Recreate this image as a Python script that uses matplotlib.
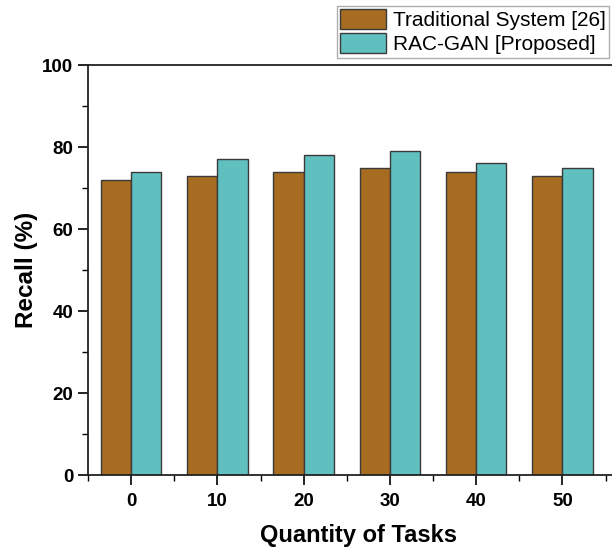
import matplotlib
matplotlib.use("Agg")
import matplotlib.pyplot as plt
import numpy as np
from matplotlib.ticker import MultipleLocator

tasks = [0, 10, 20, 30, 40, 50]
traditional = [72, 73, 74, 75, 74, 73]
racgan = [74, 77, 78, 79, 76, 75]
labels = ["Traditional System [26]", "RAC-GAN [Proposed]"]

plt.rcParams['font.family'] = ['Liberation Sans', 'DejaVu Sans']

fig = plt.figure(figsize=(6.12, 5.5), dpi=100)
ax = fig.add_axes([88/612, 75/550, 540/612, 410/550])

w = 3.5
x = np.array(tasks, dtype=float)
b1 = ax.bar(x - w/2, traditional, width=w, color='#A86B22', edgecolor='#3a3a3a', linewidth=1.0, label=labels[0])
b2 = ax.bar(x + w/2, racgan, width=w, color='#5FC0BF', edgecolor='#3a3a3a', linewidth=1.0, label=labels[1])

ax.set_xlim(-5, 57.6)
ax.set_ylim(0, 100)
ax.set_xticks(tasks)
ax.xaxis.set_minor_locator(MultipleLocator(5))
ax.yaxis.set_major_locator(MultipleLocator(20))
ax.yaxis.set_minor_locator(MultipleLocator(10))
ax.tick_params(axis='both', which='major', direction='out', length=7, width=1.2, labelsize=13.5)
ax.tick_params(axis='x', which='major', pad=6)
ax.tick_params(axis='both', which='minor', direction='out', length=4, width=1.0)
for lab in ax.get_xticklabels() + ax.get_yticklabels():
    lab.set_fontweight('bold')
for s in ax.spines.values():
    s.set_linewidth(1.3)
    s.set_color('#222222')

ax.set_xlabel("Quantity of Tasks", fontsize=17, fontweight='bold', labelpad=10)
ax.set_ylabel("Recall (%)", fontsize=17.5, fontweight='bold', labelpad=3)

leg = fig.legend(handles=[b1, b2], labels=labels, loc='upper left',
                 bbox_to_anchor=(337/612, 1 - 6/550), fontsize=15,
                 frameon=True, fancybox=False, handlelength=2.2, handleheight=1.1,
                 borderpad=0.15, labelspacing=0.15, handletextpad=0.35, borderaxespad=0)
leg.get_frame().set_edgecolor('#999999')
leg.get_frame().set_linewidth(1.0)

fig.savefig("out.png", dpi=100)
